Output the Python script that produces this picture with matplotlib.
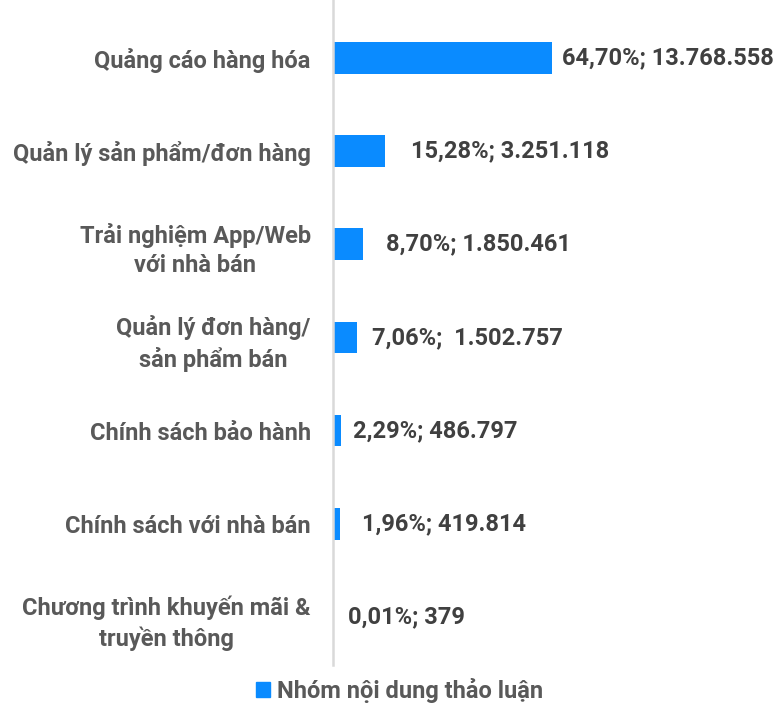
import matplotlib.pyplot as plt
from matplotlib.patches import Patch

plt.rcParams['font.family'] = ['Roboto', 'DejaVu Sans']

categories = ['Quảng cáo hàng hóa', 'Quản lý sản phẩm/đơn hàng',
              'Trải nghiệm App/Web\nvới nhà bán', 'Quản lý đơn hàng/\nsản phẩm bán',
              'Chính sách bảo hành', 'Chính sách với nhà bán',
              'Chương trình khuyến mãi &\ntruyền thông']
shares = [64.70, 15.28, 8.70, 7.06, 2.29, 1.96, 0.01]
value_labels = ['64,70%; 13.768.558', '15,28%; 3.251.118', '8,70%; 1.850.461',
                '7,06%;  1.502.757', '2,29%; 486.797', '1,96%; 419.814', '0,01%; 379']
series_name = 'Nhóm nội dung thảo luận'

blue = '#0a8bff'
label_offsets = [7, 19, 17, 11, 9, 16, 11]  # points, right of bar end

fig = plt.figure(figsize=(7.8, 7.03), dpi=100)
ax = fig.add_axes([0.427, 0.054, 0.573, 0.946])

y = list(range(len(categories)))
ax.barh(y, shares, height=0.34, color=blue)

for i, (v, txt) in enumerate(zip(shares, value_labels)):
    ax.annotate(txt, (v, i), xytext=(label_offsets[i], 0), textcoords='offset points',
                va='center', ha='left', fontsize=17, fontweight='bold', color='#404040')

ax.set_yticks(y)
ax.set_yticklabels(categories, fontsize=17, fontweight='bold', color='#595959',
                   multialignment='center', linespacing=1.35)
ax.tick_params(axis='y', length=0, pad=16)
ax.set_xticks([])
ax.set_xlim(0, 132)
ax.set_ylim(6.515, -0.62)

for s in ['top', 'right', 'bottom']:
    ax.spines[s].set_visible(False)
ax.spines['left'].set_color('#d9d9d9')
ax.spines['left'].set_linewidth(1.8)

fig.legend(handles=[Patch(color=blue, label=series_name)], loc='center',
           bbox_to_anchor=(0.512, 0.018), frameon=False, handlelength=0.6,
           handleheight=0.6, handletextpad=0.3,
           prop={'size': 17, 'weight': 'bold'}, labelcolor='#595959')

fig.savefig('out.png', dpi=100)
